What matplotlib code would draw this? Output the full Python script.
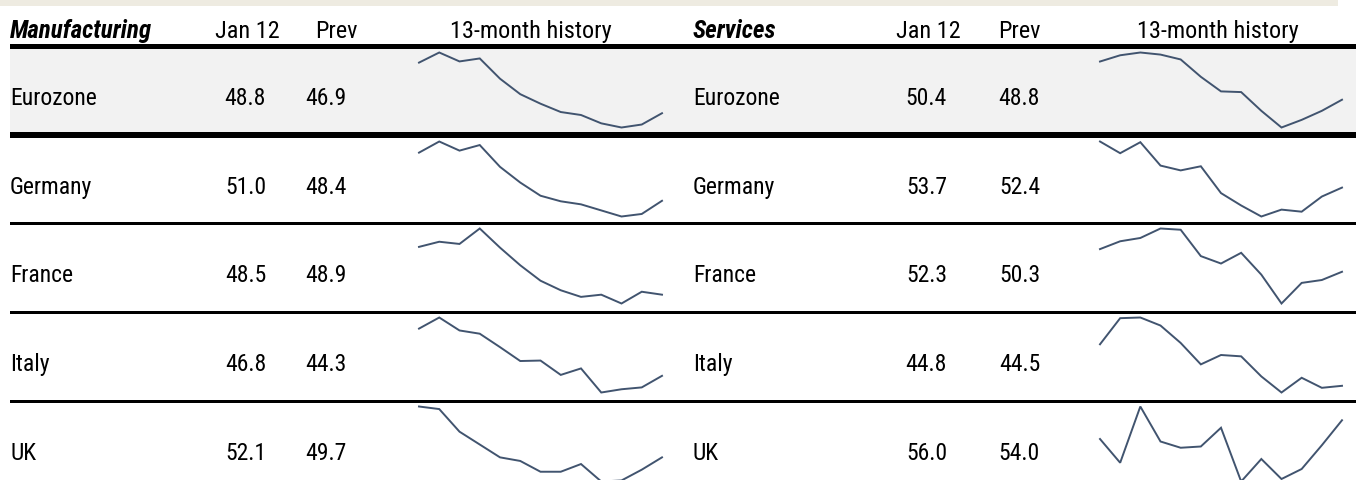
import matplotlib
matplotlib.use("Agg")
import matplotlib.pyplot as plt
from matplotlib.patches import Rectangle
import matplotlib.font_manager as fm

# ---------------- data ----------------
countries = ["Eurozone", "Germany", "France", "Italy", "UK"]
mfg_jan12 = [48.8, 51.0, 48.5, 46.8, 52.1]
mfg_prev = [46.9, 48.4, 48.9, 44.3, 49.7]
srv_jan12 = [50.4, 53.7, 52.3, 44.8, 56.0]
srv_prev = [48.8, 52.4, 50.3, 44.5, 54.0]

mfg_eurozone = [57.3, 59.0, 57.5, 58.0, 54.6, 52.0, 50.4, 49.0, 48.5, 47.1, 46.4, 46.9, 48.8]
mfg_germany = [60.5, 62.7, 60.9, 62.0, 57.7, 54.6, 52.0, 50.9, 50.3, 49.1, 47.9, 48.4, 51.0]
mfg_france = [55.0, 55.7, 55.4, 57.5, 54.9, 52.5, 50.4, 49.1, 48.2, 48.5, 47.3, 48.9, 48.5]
mfg_italy = [57.0, 59.4, 56.6, 55.9, 53.0, 50.0, 50.1, 47.0, 48.4, 43.2, 43.9, 44.3, 46.8]
mfg_uk = [62.0, 61.5, 57.1, 54.6, 52.1, 51.4, 49.3, 49.3, 50.8, 47.4, 47.6, 49.7, 52.1]

srv_eurozone = [55.9, 56.8, 57.2, 56.9, 56.2, 53.7, 51.6, 51.5, 48.8, 46.4, 47.5, 48.8, 50.4]
srv_germany = [60.4, 58.7, 60.3, 56.9, 56.2, 56.8, 52.9, 51.1, 49.5, 50.5, 50.2, 52.4, 53.7]
srv_france = [57.8, 59.7, 60.5, 62.8, 62.5, 56.1, 54.3, 56.9, 51.6, 44.6, 49.6, 50.3, 52.3]
srv_italy = [51.0, 54.9, 55.0, 53.8, 51.2, 48.0, 49.4, 49.2, 46.2, 43.8, 46.0, 44.5, 44.8]
srv_uk = [54.5, 52.6, 57.1, 54.3, 53.8, 53.9, 55.4, 51.1, 52.9, 51.3, 52.1, 54.0, 56.0]

mfg_history = [mfg_eurozone, mfg_germany, mfg_france, mfg_italy, mfg_uk]
srv_history = [srv_eurozone, srv_germany, srv_france, srv_italy, srv_uk]

headers_mfg = ["Manufacturing", "Jan 12", "Prev", "13-month history"]
headers_srv = ["Services", "Jan 12", "Prev", "13-month history"]

# ---------------- style ----------------
available = {f.name for f in fm.fontManager.ttflist}
family = ["Roboto Condensed", "Archivo Narrow", "Liberation Sans", "DejaVu Sans"]
family = [f for f in family if f in available] or ["DejaVu Sans"]
plt.rcParams["font.family"] = family

W, H = 1364, 481
LINE_COLOR = "#41546f"
FS = 17
FS_HEAD = 17.5
FS_TITLE = 18

fig = plt.figure(figsize=(W / 100, H / 100), dpi=100)
bg = fig.add_axes([0, 0, 1, 1])
bg.set_xlim(0, W)
bg.set_ylim(H, 0)
bg.axis("off")

# top beige band
bg.add_patch(Rectangle((0, 0), 1338, 7, color="#eeebe1", lw=0))

# row geometry (pixel rows)
row_tops = [50, 139, 226, 315, 404]
row_bottoms = [133, 223, 312, 401, 490]
sep_lines = [(45, 5), (133, 6), (223, 3), (312, 3), (401, 3)]
X0, X1 = 10, 1356

# shaded Eurozone row
bg.add_patch(Rectangle((X0, 50), X1 - X0, 83, color="#f2f2f2", lw=0))
for y, t in sep_lines:
    bg.add_patch(Rectangle((X0, y), X1 - X0, t, color="black", lw=0))

# column positions
panels = [
    dict(label_x=10, jan_r=266, prev_r=347, h_jan=247, h_prev=336, hist_c=531,
         spark_x0=419, spark_x1=662, heads=headers_mfg, jan=mfg_jan12, prev=mfg_prev,
         hist=mfg_history),
    dict(label_x=693, jan_r=947, prev_r=1040, h_jan=928, h_prev=1019, hist_c=1218,
         spark_x0=1100, spark_x1=1342, heads=headers_srv, jan=srv_jan12, prev=srv_prev,
         hist=srv_history),
]

HEAD_BASE = 38
for p in panels:
    bg.text(p["label_x"], HEAD_BASE, p["heads"][0], fontsize=FS_TITLE, fontweight="bold",
            fontstyle="italic", ha="left", va="baseline")
    bg.text(p["h_jan"], HEAD_BASE, p["heads"][1], fontsize=FS_HEAD, ha="center", va="baseline")
    bg.text(p["h_prev"], HEAD_BASE, p["heads"][2], fontsize=FS_HEAD, ha="center", va="baseline")
    bg.text(p["hist_c"], HEAD_BASE, p["heads"][3], fontsize=FS_HEAD, ha="center", va="baseline")

    for i, c in enumerate(countries):
        base = (row_tops[i] + min(row_bottoms[i], row_tops[i] + 86)) / 2 + 13.5
        bg.text(p["label_x"], base, c, fontsize=FS, ha="left", va="baseline")
        bg.text(p["jan_r"], base, f"{p['jan'][i]:.1f}", fontsize=FS, ha="right", va="baseline")
        bg.text(p["prev_r"], base, f"{p['prev'][i]:.1f}", fontsize=FS, ha="right", va="baseline")

        # sparkline axes
        top = row_tops[i] + 3.5
        hgt = 75
        ax = fig.add_axes([p["spark_x0"] / W, 1 - (top + hgt) / H,
                           (p["spark_x1"] - p["spark_x0"]) / W, hgt / H])
        vals = p["hist"][i]
        ax.plot(range(len(vals)), vals, color=LINE_COLOR, lw=1.4, clip_on=False,
                solid_joinstyle="miter")
        ax.set_xlim(0, len(vals) - 1)
        ax.set_ylim(min(vals), max(vals))
        ax.axis("off")
        ax.patch.set_alpha(0)

fig.savefig("out.png", dpi=100)
